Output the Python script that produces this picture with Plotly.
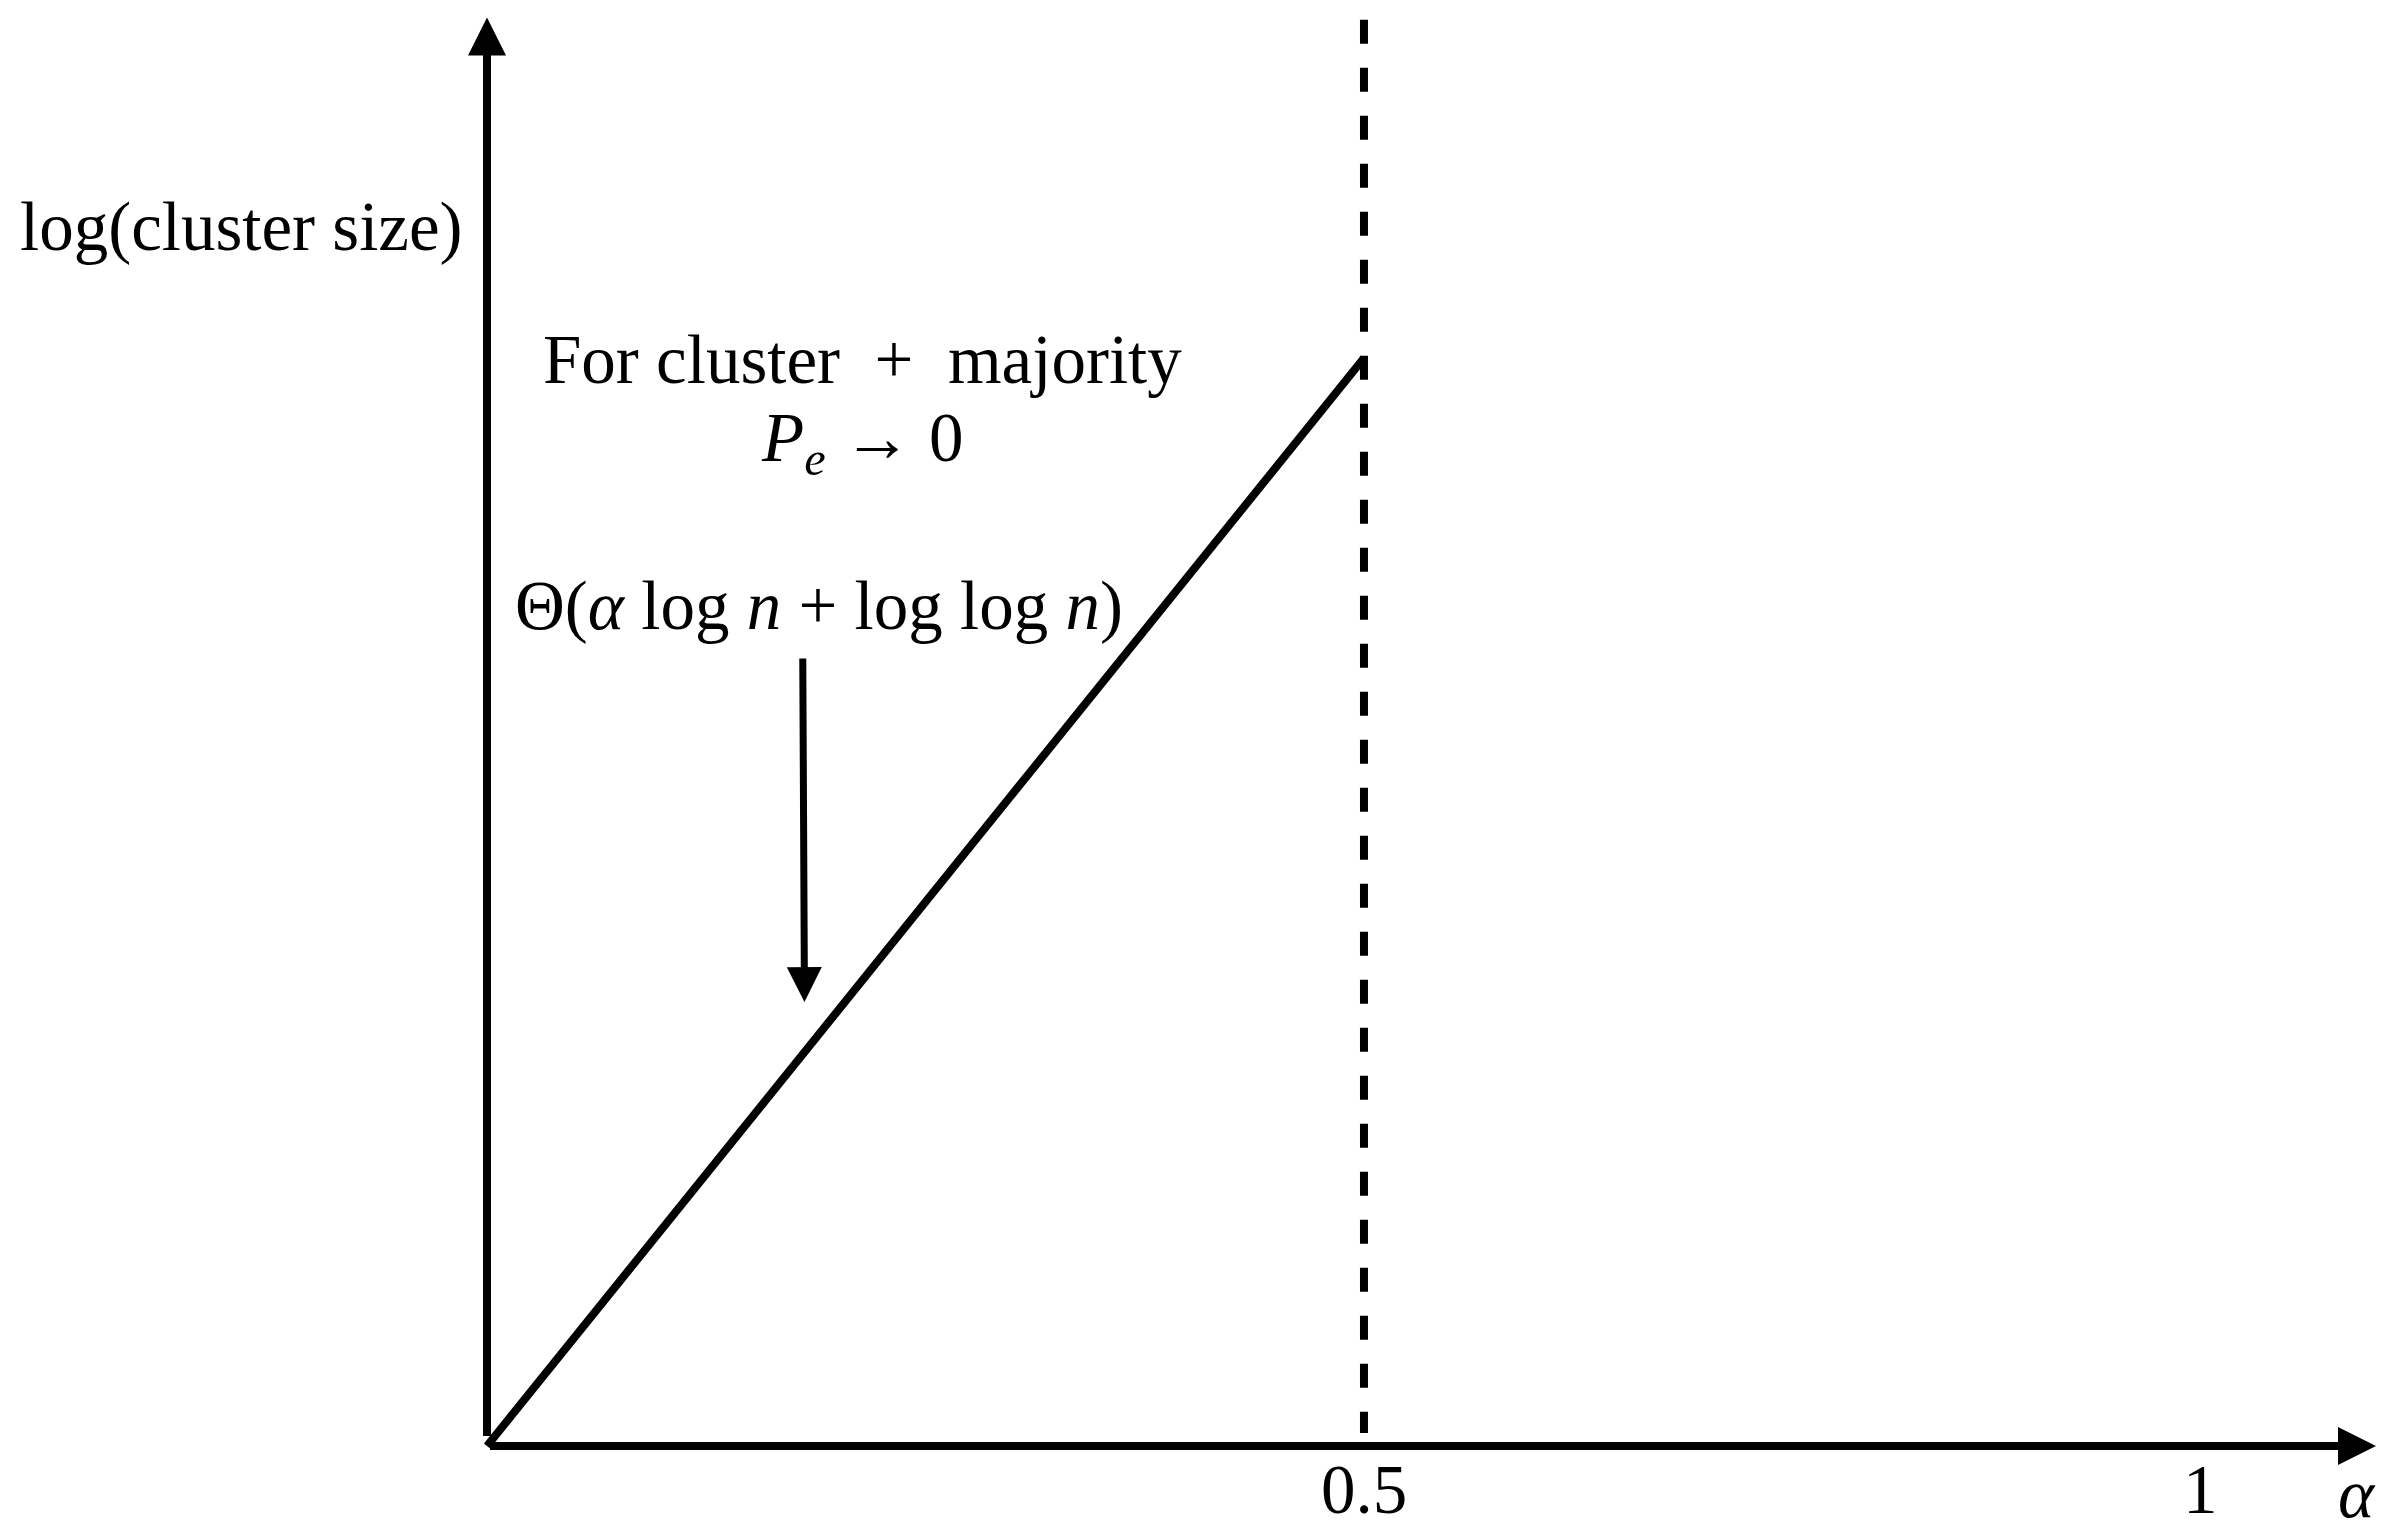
import plotly.graph_objects as go

# ---- data (schematic values) ----
curve_alpha = [0.0, 0.5]          # alpha values of the solid line
curve_logsize = [0.0, 1.0]        # log(cluster size), normalised
threshold_alpha = 0.5             # dashed vertical line
threshold_span = [1.311, 0.012]   # y extent of dashed line (top -> bottom)
axis_x_end = 1.077
axis_y_end = 1.313
tick_pos = [0.5, 0.977]
tick_text = ["0.5", "1"]

FONT = "Liberation Serif"
FS = 69
W, H = 2387 - 16, 1527 - 16   # page body keeps an 8px margin

fig = go.Figure()

fig.add_trace(go.Scatter(
    x=curve_alpha, y=curve_logsize, mode="lines",
    line=dict(color="black", width=8), hoverinfo="skip", showlegend=False))

fig.add_trace(go.Scatter(
    x=[threshold_alpha, threshold_alpha], y=threshold_span, mode="lines",
    line=dict(color="black", width=8, dash="24px,24px"),
    hoverinfo="skip", showlegend=False))

annotations = []
# axes as arrows
annotations.append(dict(x=axis_x_end, y=0, ax=0, ay=0, xref="x", yref="y",
                        axref="x", ayref="y", showarrow=True, arrowhead=2,
                        arrowwidth=8, arrowsize=0.95, arrowcolor="black", text=" "))
annotations.append(dict(x=0, y=axis_y_end, ax=0, ay=0, xref="x", yref="y",
                        axref="x", ayref="y", showarrow=True, arrowhead=2,
                        arrowwidth=8, arrowsize=0.95, arrowcolor="black", text=" "))
# pointer arrow
annotations.append(dict(x=0.181, y=0.408, ax=0.180, ay=0.733, xref="x", yref="y",
                        axref="x", ayref="y", showarrow=True, arrowhead=2,
                        arrowwidth=7, arrowsize=1.0, arrowcolor="black", text=" "))

def txt(x, y, s, size=FS):
    annotations.append(dict(x=x, y=y, xref="x", yref="y", text=s, showarrow=False,
                            xanchor="center", yanchor="middle",
                            font=dict(family=FONT, size=size, color="black")))

txt(-0.140, 1.120, "log(cluster size)")
txt(0.214, 0.998, "For cluster\u2002+\u2002majority")
txt(0.214, 0.922, "<i>P</i><sub><i>e</i></sub> → 0")
txt(0.189, 0.772, "Θ(<i>α</i> log <i>n</i> + log log <i>n</i>)")
for p, t in zip(tick_pos, tick_text):
    txt(p, -0.040, t)
txt(1.066, -0.044, "<i>α</i>")

fig.update_layout(
    width=W, height=H,
    margin=dict(l=0, r=0, t=0, b=0),
    paper_bgcolor="white", plot_bgcolor="white",
    xaxis=dict(range=[-0.2731, 1.0787], visible=False, fixedrange=True),
    yaxis=dict(range=[-0.0671, 1.3217], visible=False, fixedrange=True),
    annotations=annotations,
    showlegend=False,
)

fig.write_html("out.html", config={"displayModeBar": False})
